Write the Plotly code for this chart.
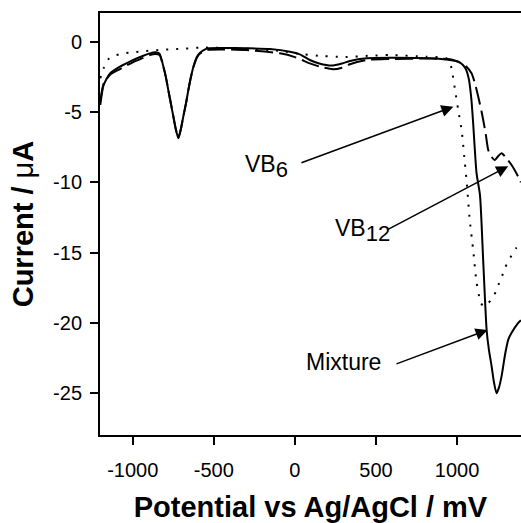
import plotly.graph_objects as go

# Mixture (solid)
mix_x = [-1200, -1180, -1140, -1079, -997, -935, -894, -860, -835, -811, -796, -781, -765, -750, -735,
         -719, -703, -688, -672, -657, -641, -626, -603, -586, -560, -534, -450, -300, -154, -31, 30, 92,
         150, 226, 290, 339, 442, 586, 832, 956, 1007, 1036, 1056, 1073, 1088, 1099, 1120, 1141, 1161,
         1182, 1196, 1213, 1227, 1243, 1258, 1274, 1284, 1295, 1305, 1315, 1336, 1377, 1393]
mix_y = [-4.5, -3.1, -2.25, -1.78, -1.3, -1.0, -0.83, -0.76, -0.85, -1.78, -2.5, -3.43, -4.4, -5.3, -6.2,
         -6.87, -6.2, -5.3, -4.4, -3.43, -2.5, -1.78, -1.05, -0.8, -0.58, -0.47, -0.45, -0.47, -0.52,
         -0.71, -0.9, -1.3, -1.55, -1.7, -1.55, -1.37, -1.18, -1.14, -1.18, -1.3, -1.42, -1.66, -2.0, -2.7,
         -4.1, -5.8, -9.36, -10.9, -15.6, -20.5, -21.9, -23.1, -24.2, -25.0, -24.6, -23.8, -23.1, -22.3,
         -21.7, -21.2, -20.7, -20.0, -19.8]

# VB12 (dashed)
vb12_x = [-1200, -1180, -1140, -1079, -997, -935, -894, -860, -835, -811, -796, -781, -765, -750, -735,
          -719, -703, -688, -672, -657, -641, -626, -603, -586, -560, -534, -450, -300, -92, 0, 92, 160,
          234, 290, 339, 442, 586, 832, 956, 1028, 1058, 1089, 1110, 1130, 1151, 1161, 1177, 1192, 1213,
          1233, 1254, 1274, 1305, 1336, 1377, 1393]
vb12_y = [-4.2, -3.0, -2.35, -1.95, -1.45, -1.15, -0.95, -0.88, -0.95, -1.8, -2.5, -3.43, -4.4, -5.3,
          -6.2, -6.85, -6.2, -5.3, -4.4, -3.43, -2.5, -1.8, -1.1, -0.85, -0.65, -0.57, -0.55, -0.6, -0.83,
          -1.1, -1.54, -1.8, -1.96, -1.85, -1.6, -1.3, -1.23, -1.2, -1.25, -1.54, -1.78, -2.25, -2.96,
          -3.9, -4.98, -5.57, -6.6, -7.7, -8.2, -8.41, -8.13, -7.94, -8.3, -8.77, -9.6, -10.0]

# VB6 (dotted)
vb6_x = [-1200, -1180, -1145, -1083, -1021, -955, -894, -832, -771, -709, -648, -586, -300, -100, 49,
         173, 296, 462, 586, 812, 935, 956, 966, 987, 1007, 1028, 1048, 1058, 1068, 1079, 1100, 1120,
         1147, 1165, 1190, 1223, 1243, 1270, 1295, 1321, 1363, 1393]
vb6_y = [-2.6, -1.9, -1.18, -0.9, -0.78, -0.71, -0.64, -0.59, -0.54, -0.52, -0.47, -0.42, -0.5, -0.65,
         -0.9, -1.02, -1.09, -1.0, -0.95, -1.07, -1.18, -1.5, -1.9, -3.4, -4.86, -6.3, -8.65, -9.84,
         -11.3, -12.8, -14.9, -17.1, -18.6, -18.8, -18.6, -18.2, -17.6, -16.9, -16.1, -15.5, -14.7, -14.2]

x_ticks = [-1000, -500, 0, 500, 1000]
y_ticks = [0, -5, -10, -15, -20, -25]

FONT = "Liberation Sans, Arial, Helvetica, sans-serif"

fig = go.Figure()
fig.add_trace(go.Scatter(x=vb6_x, y=vb6_y, mode="lines", name="VB6",
                         line=dict(color="black", width=2, dash="2px,8px", shape="spline", smoothing=0.6)))
fig.add_trace(go.Scatter(x=vb12_x, y=vb12_y, mode="lines", name="VB12",
                         line=dict(color="black", width=2, dash="18px,6px", shape="spline", smoothing=0.6)))
fig.add_trace(go.Scatter(x=mix_x, y=mix_y, mode="lines", name="Mixture",
                         line=dict(color="black", width=2, shape="spline", smoothing=0.6)))

# labels
labels = [
    ("VB<sub><span style='font-size:22px'>6</span></sub>", -176, -8.9),
    ("VB<sub><span style='font-size:22px'>12</span></sub>", 418, -13.4),
    ("Mixture", 298, -22.8),
]
for txt, lx, ly in labels:
    fig.add_annotation(x=lx, y=ly, text=txt, showarrow=False,
                       font=dict(family=FONT, size=23, color="black"))

arrows = [
    (31, -8.65, 977, -4.62),
    (565, -13.4, 1315, -8.85),
    (617, -22.95, 1188, -20.5),
]
for ax0, ay0, tx, ty in arrows:
    fig.add_annotation(x=tx, y=ty, ax=ax0, ay=ay0, axref="x", ayref="y", text="",
                       showarrow=True, arrowhead=2, arrowsize=1.6, arrowwidth=1.5,
                       arrowcolor="black", standoff=0, startstandoff=0)

fig.update_layout(
    width=521, height=523,
    margin=dict(l=100, r=0, t=13, b=88),
    paper_bgcolor="white", plot_bgcolor="white",
    showlegend=False,
    font=dict(family=FONT, color="black"),
)
fig.update_xaxes(
    range=[-1202, 1394], tickvals=x_ticks, ticktext=[str(v) for v in x_ticks],
    showgrid=False, zeroline=False, showline=True, linecolor="black", linewidth=2, mirror=True,
    ticks="outside", ticklen=8, tickwidth=2, tickcolor="black", ticklabelstandoff=8,
    tickfont=dict(family=FONT, size=20, color="black"),
    title=dict(text="<b>Potential vs Ag/AgCl / mV</b>", font=dict(family=FONT, size=29, color="black"),
               standoff=18),
)
fig.update_yaxes(
    range=[-27.97, 2.04], tickvals=y_ticks, ticktext=[str(v) for v in y_ticks],
    showgrid=False, zeroline=False, showline=True, linecolor="black", linewidth=2,
    ticks="outside", ticklen=8, tickwidth=2, tickcolor="black", ticklabelstandoff=4,
    tickfont=dict(family=FONT, size=20, color="black"),
    title=dict(text="<b>Current / </b>μ<b>A</b>", font=dict(family=FONT, size=29, color="black"),
               standoff=11),
)

fig.write_html("out.html", config={"displayModeBar": False},
               post_script="document.body.style.margin='0';")
